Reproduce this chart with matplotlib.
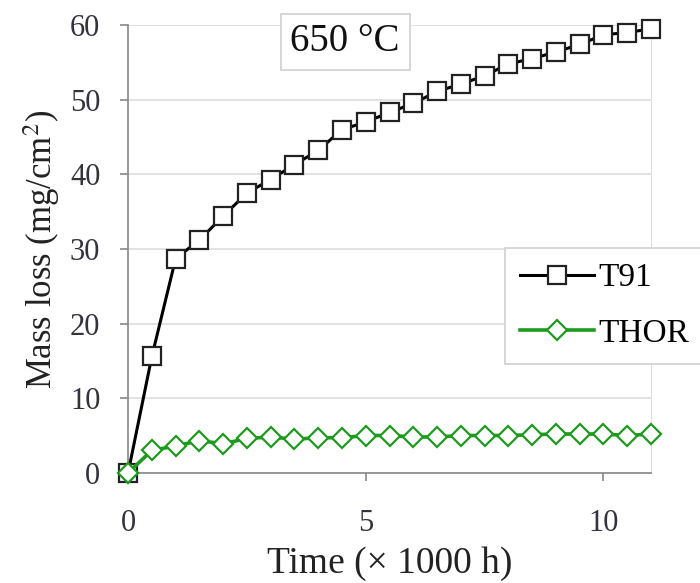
import matplotlib
matplotlib.use("Agg")
import matplotlib.pyplot as plt

time_kh = [0, 0.5, 1, 1.5, 2, 2.5, 3, 3.5, 4, 4.5, 5, 5.5, 6, 6.5, 7, 7.5, 8, 8.5, 9, 9.5, 10, 10.5, 11]
t91 = [0, 15.6, 28.7, 31.2, 34.4, 37.5, 39.3, 41.3, 43.2, 46.0, 47.0, 48.3, 49.5, 51.1, 52.1, 53.2, 54.8, 55.5, 56.4, 57.4, 58.7, 59.0, 59.5]
thor = [0, 3.0, 3.6, 4.3, 3.9, 4.6, 4.8, 4.5, 4.7, 4.7, 5.0, 5.0, 4.8, 4.8, 5.0, 5.0, 5.0, 5.1, 5.2, 5.2, 5.2, 5.0, 5.2]
x_ticks = [0, 5, 10]
y_ticks = [0, 10, 20, 30, 40, 50, 60]

plt.rcParams['font.family'] = ['Liberation Serif', 'DejaVu Serif']
plt.rcParams['mathtext.fontset'] = 'stix'

fig = plt.figure(figsize=(7, 5.83), dpi=100)
ax = fig.add_axes([0.183, 0.189, 0.747, 0.768])

green = '#1e9a1e'
ax.plot(time_kh, t91, color='black', lw=2.2, marker='s', ms=12.5, mfc='white',
        mec='#222222', mew=1.6, label='T91', clip_on=False, zorder=3)
ax.plot(time_kh, thor, color=green, lw=2.6, marker='D', ms=10.5, mfc='white',
        mec=green, mew=1.6, label='THOR', clip_on=False, zorder=4)

ax.set_xlim(0, 11)
ax.set_ylim(0, 60)
ax.set_xticks(x_ticks)
ax.set_yticks(y_ticks)
ax.yaxis.grid(True, color='#dddddd', lw=1.2)
ax.set_axisbelow(True)
for s in ['left', 'bottom']:
    ax.spines[s].set_color('#888888')
    ax.spines[s].set_linewidth(1.2)
ax.spines['right'].set_color('#dddddd')
ax.spines['top'].set_visible(False)
ax.tick_params(axis='both', labelsize=22, colors='#888888', labelcolor='#333340',
               length=6, width=1.2, direction='out')
ax.tick_params(axis='y', pad=14)
ax.tick_params(axis='x', pad=20)

ax.set_xlabel('Time (× 1000 h)', fontsize=27, color='#222222', labelpad=6)
ax.set_ylabel('Mass loss (mg/cm$^2$)', fontsize=25, color='#222222', labelpad=6)

fig.text(0.493, 0.928, '650 °C', fontsize=28, ha='center', va='center', color='#111111',
         bbox=dict(boxstyle='square,pad=0.25', fc='white', ec='#d0d0d0', lw=1.2))

leg = fig.legend(loc='upper left', bbox_to_anchor=(0.722, 1 - 248 / 583), fontsize=24,
                 frameon=True, fancybox=False, edgecolor='#d0d0d0', framealpha=1,
                 handlelength=2.2, handletextpad=0.15, labelspacing=0.75,
                 borderpad=0.45, borderaxespad=0)
leg.get_frame().set_linewidth(1.2)

fig.savefig('out.png', dpi=100)
